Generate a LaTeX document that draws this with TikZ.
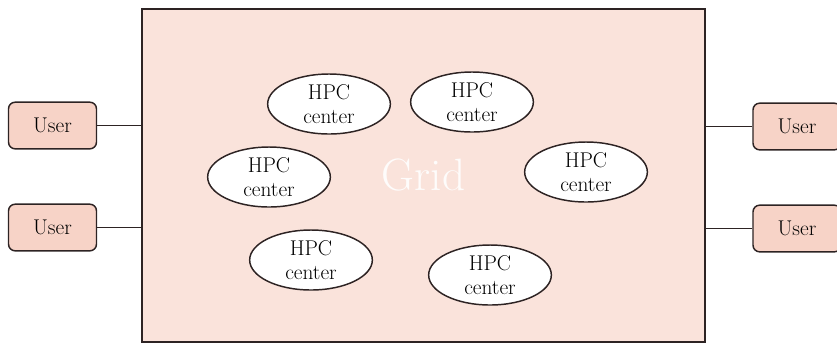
\documentclass[tikz,border=0pt]{standalone}
\usepackage{tikz}
\usetikzlibrary{shapes}
\usetikzlibrary{positioning}

\definecolor{gridpink}{RGB}{250,227,219}
\definecolor{userpink}{RGB}{247,211,199}
\definecolor{edgegray}{RGB}{45,35,35}

\begin{document}
\begin{tikzpicture} [x=0.75pt, y=-0.75pt,
    gridbox/.style={draw=edgegray, line width=1.1pt, fill=gridpink, rectangle,
      minimum width=422pt, minimum height=250pt, text=white!90!gridpink,
      font=\fontsize{34}{36}\selectfont},
    userbox/.style={draw=edgegray, line width=1.1pt, fill=userpink, rectangle,
      rounded corners=5pt, minimum width=66pt, minimum height=35pt,
      font=\fontsize{16}{18}\selectfont},
    hpc/.style={draw=edgegray, line width=1.1pt, fill=white, ellipse, inner sep=0pt,
      minimum width=92pt, minimum height=45pt, align=center,
      font=\fontsize{16}{18}\selectfont}]
    \useasboundingbox (0,0) rectangle (837,344);

    \node (grid) [gridbox] at (423.5,175.5) {Grid};

    \node (hpca) [hpc] at (329,104) {HPC \\ center};
    \node (hpcb) [hpc] at (472,102) {HPC \\ center};
    \node (hpcc) [hpc] at (269,177) {HPC \\ center};
    \node (hpcd) [hpc] at (586,172) {HPC \\ center};
    \node (hpce) [hpc] at (311,260) {HPC \\ center};
    \node (hpcf) [hpc] at (490,275) {HPC \\ center};

    \node (userla) [userbox] at (52.5,125.5) {User};
    \node (userlb) [userbox] at (52.5,227.5) {User};
    \node (userra) [userbox] at (797,126.5) {User};
    \node (userrb) [userbox] at (797,228.5) {User};

    \draw [-, edgegray, line width=0.8pt] (userla) -- (userla -| grid.west);
    \draw [-, edgegray, line width=0.8pt] (userlb) -- (userlb -| grid.west);
    \draw [-, edgegray, line width=0.8pt] (userra) -- (userra -| grid.east);
    \draw [-, edgegray, line width=0.8pt] (userrb) -- (userrb -| grid.east);
  \end{tikzpicture}
\end{document}
